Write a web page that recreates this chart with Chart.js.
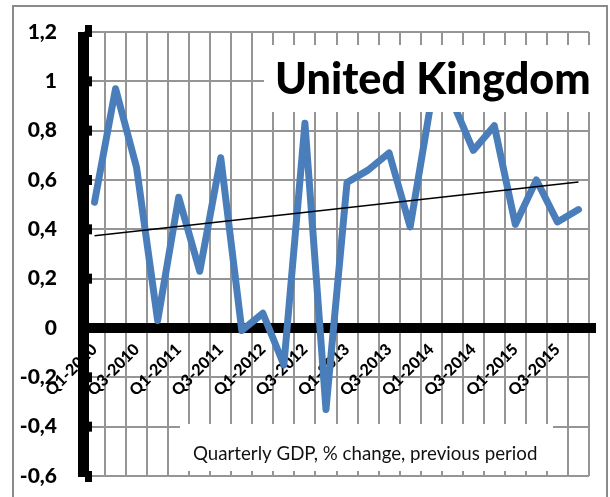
<!DOCTYPE html>
<html>
<head>
<meta charset="utf-8">
<script src="https://cdn.jsdelivr.net/npm/chart.js@4.4.1/dist/chart.umd.min.js"></script>
<style>
  html, body { margin: 0; padding: 0; background: #fff; }
  #wrap { position: relative; width: 610px; height: 497px; }
</style>
</head>
<body>
<div id="wrap"><canvas id="chart" width="610" height="497"></canvas></div>
<script>
const categories = [
  'Q1-2010', 'Q2-2010', 'Q3-2010', 'Q4-2010',
  'Q1-2011', 'Q2-2011', 'Q3-2011', 'Q4-2011',
  'Q1-2012', 'Q2-2012', 'Q3-2012', 'Q4-2012',
  'Q1-2013', 'Q2-2013', 'Q3-2013', 'Q4-2013',
  'Q1-2014', 'Q2-2014', 'Q3-2014', 'Q4-2014',
  'Q1-2015', 'Q2-2015', 'Q3-2015', 'Q4-2015'
];
const gdpGrowth = [
  0.51, 0.97, 0.65, 0.03,
  0.53, 0.23, 0.69, -0.01,
  0.06, -0.15, 0.83, -0.33,
  0.59, 0.64, 0.71, 0.41,
  0.92, 0.92, 0.72, 0.82,
  0.42, 0.60, 0.43, 0.48
];
// linear trend, first and last quarter
const trendEnds = [0.374, 0.592];
const yRange = [-0.6, 1.2];

const chartTitle = 'United Kingdom';
const chartNote = 'Quarterly GDP, % change, previous period';

const trendData = categories.map((c, i) => {
  if (i === 0) return trendEnds[0];
  if (i === categories.length - 1) return trendEnds[1];
  return null;
});

const GRID = '#959595';

const decor = {
  id: 'decor',
  beforeDraw(chart) {
    const ctx = chart.ctx;
    ctx.save();
    ctx.fillStyle = '#fff';
    ctx.fillRect(0, 0, chart.width, chart.height);
    ctx.strokeStyle = '#8a8a8a';
    ctx.lineWidth = 2;
    ctx.strokeRect(13, 6, 594, 500);
    ctx.restore();
  },
  beforeDatasetsDraw(chart) {
    const ctx = chart.ctx;
    const y0 = chart.scales.y.getPixelForValue(0);
    ctx.save();
    ctx.fillStyle = '#000';
    ctx.fillRect(78, y0 - 5, 518, 10);
    ctx.restore();
  },
  afterDatasetsDraw(chart) {
    const ctx = chart.ctx;
    const ys = chart.scales.y;
    const area = chart.chartArea;
    ctx.save();
    // thick y axis with little tick marks
    ctx.fillStyle = '#000';
    ctx.fillRect(78, area.top, 11, area.bottom - area.top + 1);
    ys.ticks.forEach(t => {
      const p = ys.getPixelForValue(t.value);
      ctx.fillRect(86, p - 5, 6, 10);
    });
    ctx.fillRect(85, area.top - 7, 7, 8);
    ctx.fillRect(85, area.bottom, 7, 6);

    // title box
    ctx.fillStyle = '#fff';
    ctx.fillRect(264, 45, 332, 67);
    ctx.fillStyle = '#000';
    ctx.textBaseline = 'alphabetic';
    ctx.textAlign = 'left';
    ctx.font = '900 40px Lato';
    let w = ctx.measureText(chartTitle).width;
    ctx.font = '900 ' + (40 * 316 / w).toFixed(1) + 'px Lato';
    ctx.fillText(chartTitle, 275, 94);

    // note box
    ctx.fillStyle = '#fff';
    ctx.fillRect(180, 424, 373, 47);
    ctx.fillStyle = '#111';
    ctx.font = '18px Lato';
    w = ctx.measureText(chartNote).width;
    ctx.font = (18 * 344 / w).toFixed(1) + 'px Lato';
    ctx.fillText(chartNote, 193, 460);
    ctx.restore();
  }
};

const ctx = document.getElementById('chart').getContext('2d');
const chart = new Chart(ctx, {
  type: 'line',
  data: {
    labels: categories,
    datasets: [
      {
        label: 'GDP',
        data: gdpGrowth,
        borderColor: '#4a7ebb',
        borderWidth: 7,
        borderJoinStyle: 'round',
        borderCapStyle: 'round',
        pointRadius: 0,
        tension: 0,
        order: 2
      },
      {
        label: 'Trend',
        data: trendData,
        borderColor: '#000',
        borderWidth: 1.5,
        pointRadius: 0,
        spanGaps: true,
        order: 1
      }
    ]
  },
  options: {
    responsive: false,
    animation: false,
    layout: { padding: { left: 0, top: 32, right: 21, bottom: 21 } },
    plugins: {
      legend: { display: false },
      tooltip: { enabled: false }
    },
    scales: {
      x: {
        type: 'category',
        position: { y: 0 },
        offset: true,
        afterFit: s => {
          s.height = 0;
          s.paddingLeft = 0; s.paddingRight = 0;
          s.paddingTop = 0; s.paddingBottom = 0;
        },
        grid: { offset: true, color: GRID, lineWidth: 2, drawTicks: false },
        border: { display: false },
        ticks: {
          autoSkip: false,
          maxRotation: 45,
          minRotation: 45,
          padding: 12,
          color: '#000',
          font: { family: 'Lato', weight: '900', size: 16 },
          callback: (v, i) => (i % 2 === 0 ? categories[i] : '')
        }
      },
      y: {
        min: yRange[0],
        max: yRange[1],
        afterFit: s => {
          s.width = 84;
          s.paddingTop = 0; s.paddingBottom = 0;
        },
        grid: { color: GRID, lineWidth: 2, drawTicks: false },
        border: { display: false },
        ticks: {
          stepSize: 0.2,
          padding: 27,
          color: '#000',
          font: { family: 'Lato', weight: '900', size: 21 },
          callback: v => String(Number(v.toFixed(1))).replace('.', ',')
        }
      }
    }
  },
  plugins: [decor]
});
</script>
</body>
</html>
